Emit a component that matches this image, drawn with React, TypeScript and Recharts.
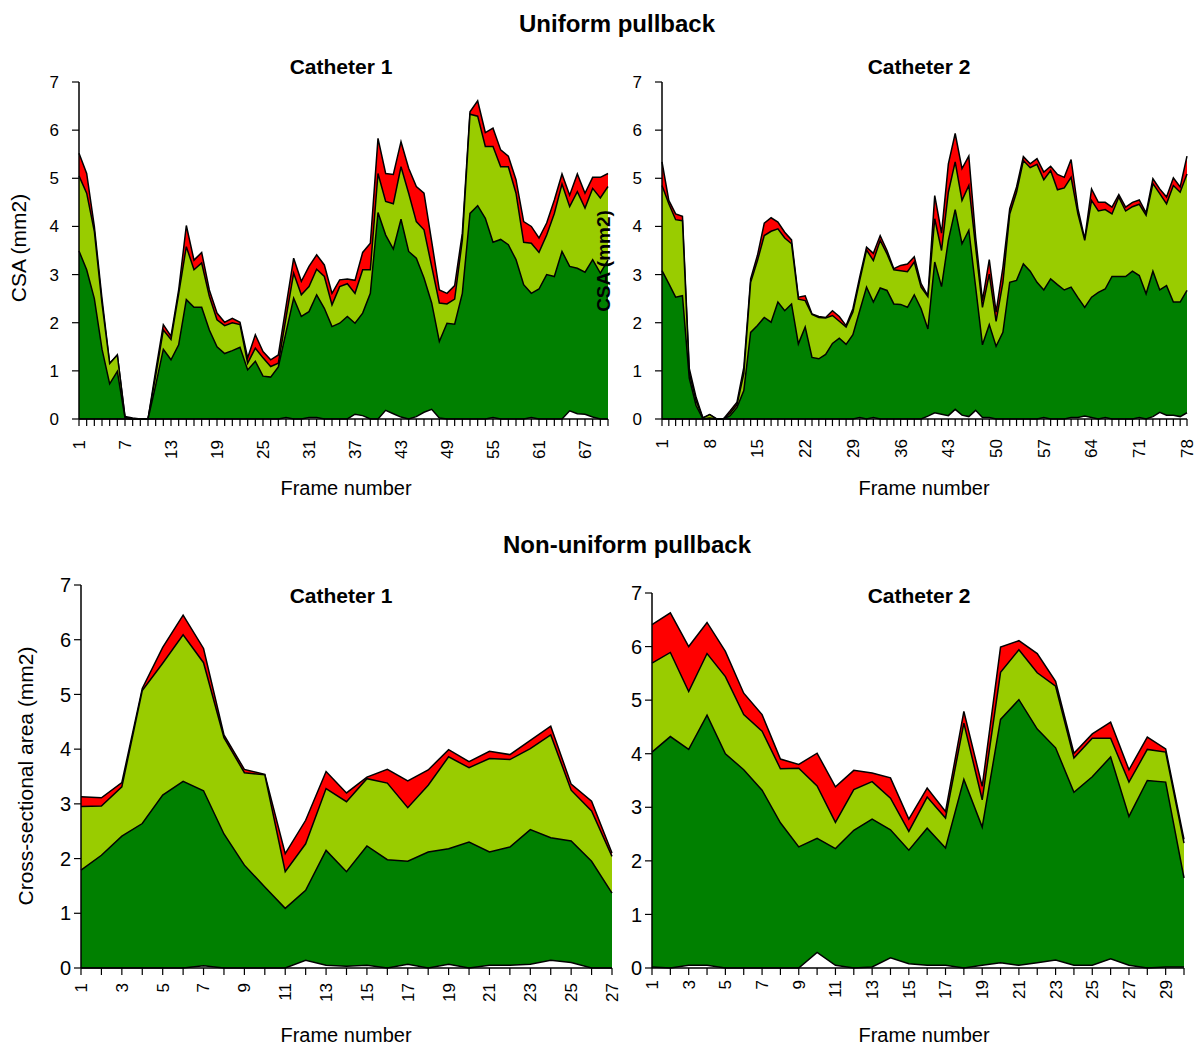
import React from 'react'
import { AreaChart, Area, XAxis, YAxis } from 'recharts'

// Uniform pullback, catheter 1 (frames 1..70): top of each coloured band
const uc1Total = [5.52, 5.1, 4.0, 2.5, 1.16, 1.33, 0.05, 0.02, 0, 0, 1.0, 1.96, 1.72, 2.68, 4.02, 3.3, 3.46, 2.68, 2.2, 2.01, 2.09, 2.01, 1.27, 1.75, 1.4, 1.23, 1.33, 2.34, 3.34, 2.86, 3.17, 3.41, 3.2, 2.61, 2.89, 2.91, 2.88, 3.46, 3.65, 5.83, 5.1, 5.08, 5.76, 5.21, 4.83, 4.69, 3.69, 2.68, 2.61, 2.77, 3.86, 6.38, 6.61, 5.95, 6.04, 5.59, 5.46, 4.97, 4.1, 4.0, 3.76, 4.07, 4.55, 5.09, 4.65, 5.09, 4.69, 5.02, 5.02, 5.1]
const uc1Light = [5.05, 4.69, 3.9, 2.4, 1.15, 1.33, 0.03, 0, 0, 0, 0.9, 1.85, 1.65, 2.6, 3.58, 3.1, 3.24, 2.55, 2.06, 1.94, 2.0, 1.96, 1.16, 1.47, 1.27, 1.09, 1.16, 2.1, 3.03, 2.58, 2.75, 3.11, 2.96, 2.37, 2.75, 2.81, 2.61, 3.1, 3.1, 5.1, 4.52, 4.47, 5.24, 4.69, 4.1, 3.93, 3.17, 2.41, 2.39, 2.49, 3.72, 6.33, 6.29, 5.66, 5.66, 5.24, 5.24, 4.69, 3.67, 3.65, 3.46, 3.82, 4.27, 4.88, 4.41, 4.72, 4.38, 4.79, 4.59, 4.83]
const uc1Dark = [3.49, 3.1, 2.5, 1.45, 0.73, 0.99, 0.02, 0, 0, 0, 0.7, 1.45, 1.23, 1.54, 2.48, 2.32, 2.32, 1.85, 1.5, 1.36, 1.42, 1.49, 1.02, 1.2, 0.89, 0.87, 1.08, 1.8, 2.51, 2.13, 2.23, 2.58, 2.3, 1.92, 1.99, 2.13, 1.99, 2.2, 2.61, 4.29, 3.82, 3.53, 4.15, 3.48, 3.34, 2.93, 2.41, 1.61, 1.99, 1.97, 2.61, 4.27, 4.43, 4.17, 3.67, 3.73, 3.62, 3.31, 2.79, 2.61, 2.7, 3.0, 2.96, 3.48, 3.17, 3.13, 3.05, 3.31, 3.03, 3.3]
const uc1White = [0, 0, 0, 0, 0, 0, 0, 0, 0, 0, 0, 0, 0, 0, 0, 0, 0, 0, 0, 0, 0, 0, 0, 0, 0, 0, 0, 0.03, 0, 0, 0.03, 0.03, 0, 0, 0, 0, 0.1, 0.07, 0, 0, 0.18, 0.11, 0.04, 0, 0.05, 0.14, 0.2, 0.02, 0, 0, 0, 0, 0, 0, 0.03, 0, 0, 0, 0, 0.03, 0, 0, 0, 0, 0.17, 0.11, 0.1, 0.04, 0, 0]

// Uniform pullback, catheter 2 (frames 1..78)
const uc2Total = [5.34, 4.54, 4.26, 4.21, 1.05, 0.45, 0.02, 0.09, 0, 0, 0.17, 0.35, 1.07, 2.91, 3.4, 4.07, 4.18, 4.09, 3.88, 3.72, 2.53, 2.56, 2.18, 2.13, 2.11, 2.25, 2.13, 1.94, 2.29, 2.95, 3.57, 3.44, 3.81, 3.5, 3.12, 3.19, 3.22, 3.37, 2.81, 2.56, 4.64, 3.86, 5.3, 5.93, 5.2, 5.46, 3.78, 2.46, 3.31, 2.22, 3.15, 4.37, 4.82, 5.45, 5.3, 5.41, 5.13, 5.25, 5.08, 5.02, 5.39, 4.37, 3.74, 4.78, 4.5, 4.5, 4.4, 4.66, 4.4, 4.5, 4.55, 4.28, 4.99, 4.78, 4.61, 5.01, 4.82, 5.46]
const uc2Light = [4.85, 4.47, 4.14, 4.12, 0.95, 0.38, 0.02, 0.09, 0, 0, 0.12, 0.3, 0.94, 2.84, 3.29, 3.81, 3.9, 3.95, 3.76, 3.64, 2.49, 2.46, 2.17, 2.11, 2.1, 2.15, 2.03, 1.91, 2.22, 2.88, 3.51, 3.29, 3.71, 3.43, 3.1, 3.08, 3.06, 3.26, 2.74, 2.54, 4.16, 3.5, 4.71, 5.34, 4.54, 4.85, 3.57, 2.32, 3.01, 2.03, 2.84, 4.26, 4.71, 5.37, 5.22, 5.29, 4.97, 5.16, 4.76, 4.8, 5.02, 4.26, 3.71, 4.54, 4.32, 4.35, 4.26, 4.61, 4.32, 4.41, 4.46, 4.23, 4.89, 4.68, 4.47, 4.85, 4.71, 5.09]
const uc2Dark = [3.08, 2.81, 2.53, 2.56, 0.85, 0.28, 0, 0.02, 0, 0, 0.07, 0.24, 0.59, 1.8, 1.94, 2.11, 2.01, 2.43, 2.25, 2.39, 1.56, 1.91, 1.28, 1.25, 1.34, 1.57, 1.68, 1.55, 1.75, 2.25, 2.74, 2.43, 2.72, 2.67, 2.39, 2.38, 2.32, 2.58, 2.29, 1.87, 3.26, 2.75, 3.71, 4.35, 3.64, 3.92, 2.74, 1.54, 1.96, 1.51, 1.8, 2.84, 2.88, 3.22, 3.07, 2.84, 2.68, 2.91, 2.79, 2.68, 2.74, 2.52, 2.32, 2.53, 2.63, 2.7, 2.96, 2.96, 2.96, 3.07, 2.98, 2.6, 3.07, 2.68, 2.77, 2.43, 2.43, 2.67]
const uc2White = [0, 0, 0, 0, 0, 0, 0, 0, 0, 0, 0, 0, 0, 0, 0, 0, 0, 0, 0, 0, 0, 0, 0, 0, 0, 0, 0, 0, 0, 0.03, 0, 0.03, 0, 0, 0, 0, 0, 0, 0, 0.06, 0.13, 0.1, 0.07, 0.2, 0.08, 0.05, 0.18, 0.03, 0.03, 0, 0, 0, 0, 0, 0, 0, 0.03, 0, 0, 0, 0.03, 0.03, 0.06, 0.03, 0, 0.03, 0, 0, 0, 0, 0.03, 0, 0.05, 0.14, 0.08, 0.08, 0.05, 0.13]

// Non-uniform pullback, catheter 1 (frames 1..27)
const nc1Total = [3.13, 3.11, 3.39, 5.11, 5.86, 6.45, 5.84, 4.26, 3.63, 3.54, 2.09, 2.7, 3.59, 3.2, 3.49, 3.63, 3.42, 3.62, 3.99, 3.77, 3.96, 3.9, 4.16, 4.42, 3.36, 3.05, 2.1]
const nc1Light = [2.95, 2.96, 3.31, 5.07, 5.57, 6.09, 5.58, 4.21, 3.57, 3.53, 1.76, 2.27, 3.28, 3.04, 3.46, 3.38, 2.93, 3.34, 3.86, 3.66, 3.83, 3.81, 4.01, 4.26, 3.25, 2.87, 2.04]
const nc1Dark = [1.79, 2.06, 2.41, 2.64, 3.16, 3.41, 3.24, 2.45, 1.88, 1.48, 1.09, 1.42, 2.15, 1.76, 2.23, 1.98, 1.95, 2.12, 2.18, 2.3, 2.12, 2.21, 2.53, 2.38, 2.32, 1.95, 1.37]
const nc1White = [0, 0, 0, 0, 0, 0, 0.04, 0, 0, 0, 0, 0.14, 0.05, 0.03, 0.05, 0, 0.07, 0, 0.07, 0, 0.05, 0.05, 0.07, 0.14, 0.1, 0, 0]

// Non-uniform pullback, catheter 2 (frames 1..30)
const nc2Total = [6.41, 6.63, 6.0, 6.45, 5.91, 5.13, 4.73, 3.9, 3.8, 4.01, 3.38, 3.69, 3.64, 3.55, 2.78, 3.36, 2.92, 4.79, 3.39, 5.99, 6.11, 5.87, 5.35, 4.01, 4.37, 4.59, 3.7, 4.31, 4.09, 2.4]
const nc2Light = [5.69, 5.89, 5.16, 5.87, 5.44, 4.73, 4.42, 3.72, 3.73, 3.4, 2.72, 3.33, 3.48, 3.17, 2.55, 3.19, 2.8, 4.57, 3.14, 5.52, 5.94, 5.51, 5.26, 3.92, 4.29, 4.29, 3.47, 4.08, 4.03, 2.33]
const nc2Dark = [4.03, 4.32, 4.08, 4.72, 4.0, 3.7, 3.32, 2.71, 2.26, 2.42, 2.23, 2.57, 2.78, 2.58, 2.2, 2.61, 2.24, 3.52, 2.63, 4.64, 5.01, 4.46, 4.11, 3.28, 3.57, 3.94, 2.83, 3.5, 3.47, 1.68]
const nc2White = [0.02, 0, 0.05, 0.05, 0, 0, 0, 0, 0, 0.29, 0.05, 0, 0.02, 0.19, 0.08, 0.05, 0.05, 0, 0.05, 0.1, 0.05, 0.1, 0.15, 0.05, 0.05, 0.17, 0.05, 0, 0.02, 0.02]

const yTicks = [0, 1, 2, 3, 4, 5, 6, 7]

const RED = '#ff0000'
const LIGHT = '#99cc00'
const DARK = '#008000'
const FONT = '"Liberation Sans", Arial, Helvetica, sans-serif'

const buildRows = (total: number[], light: number[], dark: number[], white: number[]) =>
  total.map((t, i) => ({ frame: i + 1, total: t, light: light[i], dark: dark[i], white: white[i] }))

interface PanelProps {
  total: number[]
  light: number[]
  dark: number[]
  white: number[]
  step: number
  left: number
  right: number
  top: number
  bottom: number
  labelGap: number
  yFont: number
  yMargin: number
}

function Panel({ total, light, dark, white, step, left, right, top, bottom, labelGap, yFont, yMargin }: PanelProps) {
  const rows = buildRows(total, light, dark, white)
  const n = rows.length
  const frames = rows.map((r) => r.frame)
  const plotW = right - left
  const plotH = bottom - top
  const labelY = 10 + plotH + labelGap

  const FrameTick = (props: any) => {
    const { x, payload } = props
    const v = payload.value
    if ((v - 1) % step !== 0) return <g />
    return (
      <text
        x={x}
        y={labelY}
        dy="0.35em"
        textAnchor="end"
        transform={`rotate(-90 ${x} ${labelY})`}
        fontSize={17}
        fontFamily={FONT}
        fill="#000"
      >
        {v}
      </text>
    )
  }

  return (
    <div style={{ position: 'absolute', left: left - 70, top: top - 10 }}>
      <AreaChart
        width={plotW + 80}
        height={plotH + 70}
        data={rows}
        margin={{ top: 10, right: 10, bottom: 0, left: 0 }}
      >
        <XAxis
          dataKey="frame"
          type="number"
          domain={[1, n]}
          ticks={frames}
          interval={0}
          height={60}
          tickSize={7}
          axisLine={{ stroke: '#000', strokeWidth: 1.5 }}
          tickLine={{ stroke: '#000', strokeWidth: 1.2 }}
          tick={FrameTick}
        />
        <YAxis
          type="number"
          domain={[0, 7]}
          ticks={yTicks}
          interval={0}
          width={70}
          tickSize={7}
          tickMargin={yMargin}
          axisLine={{ stroke: '#000', strokeWidth: 1.5 }}
          tickLine={{ stroke: '#000', strokeWidth: 1.2 }}
          tick={{ fill: '#000', fontSize: yFont, fontFamily: FONT }}
        />
        <Area type="linear" dataKey="total" stroke="#000" strokeWidth={1.5} fill={RED} fillOpacity={1} dot={false} activeDot={false} isAnimationActive={false} />
        <Area type="linear" dataKey="light" stroke="#000" strokeWidth={1.5} fill={LIGHT} fillOpacity={1} dot={false} activeDot={false} isAnimationActive={false} />
        <Area type="linear" dataKey="dark" stroke="#000" strokeWidth={1.5} fill={DARK} fillOpacity={1} dot={false} activeDot={false} isAnimationActive={false} />
        <Area type="linear" dataKey="white" stroke="#000" strokeWidth={1.5} fill="#fff" fillOpacity={1} dot={false} activeDot={false} isAnimationActive={false} />
      </AreaChart>
    </div>
  )
}

export default function App() {
  return (
    <div style={{ position: 'absolute', left: 0, top: 0, width: 1195, height: 1047, background: '#fff', fontFamily: FONT }}>
      <Panel total={uc1Total} light={uc1Light} dark={uc1Dark} white={uc1White} step={6}
        left={79} right={608} top={82} bottom={419} labelGap={21} yFont={17} yMargin={13} />
      <Panel total={uc2Total} light={uc2Light} dark={uc2Dark} white={uc2White} step={7}
        left={662} right={1187} top={82} bottom={419} labelGap={20} yFont={17} yMargin={13} />
      <Panel total={nc1Total} light={nc1Light} dark={nc1Dark} white={nc1White} step={2}
        left={81} right={612} top={585} bottom={968} labelGap={15} yFont={20} yMargin={3} />
      <Panel total={nc2Total} light={nc2Light} dark={nc2Dark} white={nc2White} step={2}
        left={652} right={1184} top={593} bottom={968} labelGap={12} yFont={20} yMargin={3} />

      <svg width={1195} height={1047} style={{ position: 'absolute', left: 0, top: 0, pointerEvents: 'none' }}>
        <g fontFamily={FONT} fill="#000">
          <text x={617} y={32} textAnchor="middle" fontSize={24} fontWeight="bold">Uniform pullback</text>
          <text x={627} y={553} textAnchor="middle" fontSize={24} fontWeight="bold">Non-uniform pullback</text>

          <text x={341} y={74} textAnchor="middle" fontSize={21} fontWeight="bold">Catheter 1</text>
          <text x={919} y={74} textAnchor="middle" fontSize={21} fontWeight="bold">Catheter 2</text>
          <text x={341} y={603} textAnchor="middle" fontSize={21} fontWeight="bold">Catheter 1</text>
          <text x={919} y={603} textAnchor="middle" fontSize={21} fontWeight="bold">Catheter 2</text>

          <text x={346} y={495} textAnchor="middle" fontSize={20}>Frame number</text>
          <text x={924} y={495} textAnchor="middle" fontSize={20}>Frame number</text>
          <text x={346} y={1042} textAnchor="middle" fontSize={20}>Frame number</text>
          <text x={924} y={1042} textAnchor="middle" fontSize={20}>Frame number</text>

          <text x={19} y={248} dy="0.35em" textAnchor="middle" fontSize={21} transform="rotate(-90 19 248)">CSA (mm2)</text>
          <text x={603} y={261} dy="0.35em" textAnchor="middle" fontSize={19} fontWeight="bold" transform="rotate(-90 603 261)">CSA (mm2)</text>
          <text x={26} y={776} dy="0.35em" textAnchor="middle" fontSize={21} transform="rotate(-90 26 776)">Cross-sectional area (mm2)</text>
        </g>
      </svg>
    </div>
  )
}
